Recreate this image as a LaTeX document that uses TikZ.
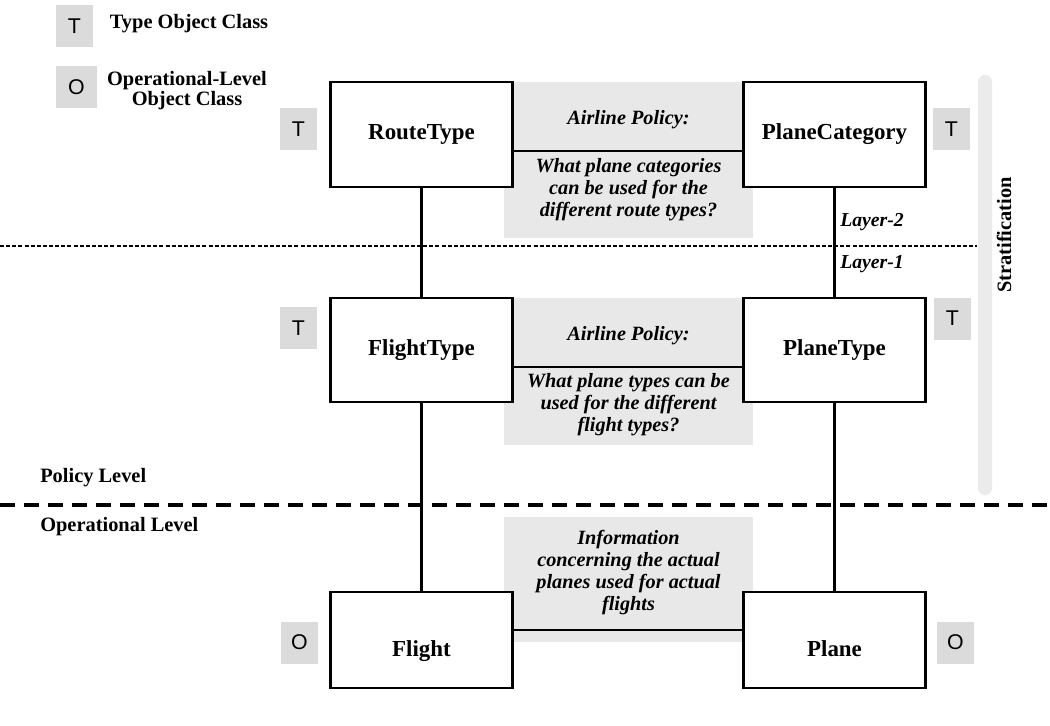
\documentclass[tikz,border=0pt]{standalone}
\usepackage{fontspec}
\setmainfont{Liberation Serif}
\newfontfamily\tagfont{Liberation Sans}
\begin{document}
\begin{tikzpicture}[x=0.75pt,y=-0.75pt,
  classbox/.style={draw,fill=white,line width=2.1pt,minimum width=137pt,
    minimum height=78pt,inner sep=0pt,outer sep=0pt,
    font=\fontsize{17.2}{20}\selectfont\bfseries},
  notebox/.style={fill=black!9,minimum width=186.75pt,inner sep=0pt,outer sep=0pt},
  notetext/.style={align=center,inner sep=0pt,
    font=\fontsize{15.2}{16.5}\selectfont\bfseries\itshape},
  tagbox/.style={fill=black!14,minimum width=28pt,minimum height=31.5pt,
    inner sep=0pt,font=\tagfont\fontsize{16}{18}\selectfont},
  link/.style={line width=1.9pt},
  label/.style={inner sep=0pt,font=\fontsize{15.3}{16}\selectfont\bfseries},
  layerlabel/.style={inner sep=0pt,anchor=west,
    font=\fontsize{14.8}{16}\selectfont\bfseries\itshape}]
\useasboundingbox (0,0) rectangle (1050,725);

% legend
\node[tagbox] (legT) at (74.5,26) {T};
\node[label] (legTtext) at (189,24) {Type Object Class};
\node[tagbox,minimum width=30.75pt] (legO) at (76.5,87) {O};
\node[label,align=center,font=\fontsize{15.3}{15}\selectfont\bfseries] (legOtext) at (187,91) {Operational-Level\\Object Class};

% stratification bar
\node[fill=black!8,minimum width=10.5pt,minimum height=315pt,rounded corners=5pt,inner sep=0pt] (bar) at (985,285) {};
\node[label,rotate=90] (strat) at (1004,235) {Stratification};

% grey policy notes
\node[notebox,minimum height=117pt] (g1) at (628.5,160) {};
\node[notebox,minimum height=110.25pt] (g2) at (628.5,371.5) {};
\node[notebox,minimum height=93.75pt] (g3) at (628.5,579.5) {};

% level separators
\coordinate (thinL) at (0,246);
\coordinate (thinR) at (977,246);
\draw[line width=0.9pt,dash pattern=on 3pt off 1.6pt] (thinL) -- (thinR);
\coordinate (thickL) at (0,505);
\coordinate (thickR) at (1050,505);
\draw[line width=3pt,dash pattern=on 11pt off 7pt] (thickL) -- (thickR);

\node[label,anchor=west] (pol) at (40,478) {Policy Level};
\node[label,anchor=west] (ops) at (40,527) {Operational Level};
\node[layerlabel] (lay2) at (840,222) {Layer-2};
\node[layerlabel] (lay1) at (840,264) {Layer-1};

% classes
\node[classbox,minimum height=78.75pt] (rt) at (421.5,134.5) {RouteType};
\node[classbox,minimum height=78.75pt] (pc) at (834.5,134.5) {PlaneCategory};
\node[classbox] (ft) at (421.5,350) {FlightType};
\node[classbox] (pt) at (834.5,350) {PlaneType};
\node[classbox,minimum height=72pt,text height=28pt,text depth=4pt] (fl) at (421.5,640) {Flight};
\node[classbox,minimum height=72pt,text height=28pt,text depth=4pt] (pl) at (834.5,640) {Plane};

% links between classes
\draw[link] (rt.south) -- (ft.north);
\draw[link] (ft.south) -- (fl.north);
\draw[link] (pc.south) -- (pt.north);
\draw[link] (pt.south) -- (pl.north);
\coordinate (m1) at (628.5,151);
\coordinate (m2) at (628.5,367);
\coordinate (m3) at (628.5,630);
\draw[link] (rt.east |- m1) -- (pc.west |- m1);
\draw[link] (ft.east |- m2) -- (pt.west |- m2);
\draw[link] (fl.east |- m3) -- (pl.west |- m3);

% note texts
\node[notetext] (ap1) at (628.5,120) {Airline Policy:};
\node[notetext] (q1) at (628.5,190) {What plane categories\\can be used for the\\different route types?};
\node[notetext] (ap2) at (628.5,336) {Airline Policy:};
\node[notetext] (q2) at (628.5,405) {What plane types can be\\used for the different\\flight types?};
\node[notetext] (q3) at (628.5,573) {Information\\concerning the actual\\planes used for actual\\flights};

% class kind tags
\node[tagbox] (tRT) at (298.5,129) {T};
\node[tagbox] (tPC) at (951.5,129) {T};
\node[tagbox] (tFT) at (298.5,328) {T};
\node[tagbox] (tPT) at (952.5,318.5) {T};
\node[tagbox] (oFL) at (299.5,642.5) {O};
\node[tagbox] (oPL) at (955.5,642.5) {O};
\end{tikzpicture}
\end{document}
